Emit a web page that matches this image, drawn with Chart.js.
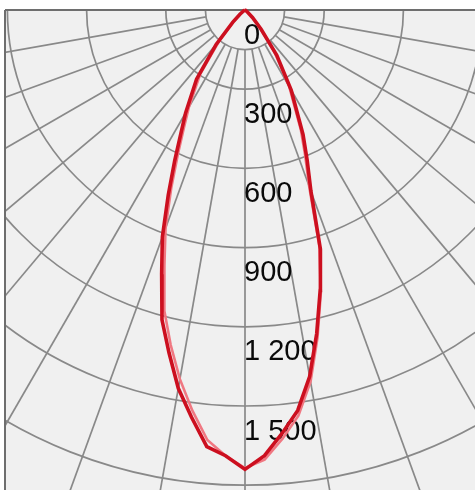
<!DOCTYPE html>
<html><head><meta charset="utf-8">
<script src="https://cdn.jsdelivr.net/npm/chart.js@4/dist/chart.umd.min.js"></script>
<style>html,body{margin:0;padding:0;background:#fff;}canvas{display:block;}</style>
</head><body>
<canvas id="c" width="475" height="490"></canvas>
<script>
// Polar light-distribution data: angle from nadir (deg), luminous intensity (cd/klm)
const angles      = [-90,-60,-50,-45,-40,-35,-30,-27.5,-25,-22.5,-20,-17.5,-15,-12.5,-10,-7.5,-5,-2.5,0,2.5,5,7.5,10,12.5,15,17.5,20,22.5,25,30,35,40,45,50,60,90];
const intensityC0 = [0,5,25,65,170,320,450,525,630,760,915,1050,1215,1330,1455,1555,1660,1690,1740,1690,1610,1530,1410,1255,1100,950,730,615,520,350,210,95,40,12,2,0];
const intensityC90= [0,4,20,58,150,295,425,500,600,730,880,1015,1180,1300,1420,1530,1635,1690,1735,1705,1630,1550,1430,1270,1110,935,710,595,500,335,195,88,36,10,2,0];
const tickValues  = [0,300,600,900,1200,1500];
const tickLabels  = ['0','300','600','900','1 200','1 500'];
const circleValues= [150,300,600,900,1200,1500,1800];
const radialAngles= [-90,-80,-70,-60,-50,-40,-30,-20,-10,0,10,20,30,40,50,60,70,80,90];

function toPoints(vals){
  return angles.map((a,i)=>{const r=a*Math.PI/180;return {x:vals[i]*Math.sin(r), y:vals[i]*Math.cos(r)};});
}

const W=475,H=490,CX=245,CY=10,PX_PER_UNIT=79.2/300;

const polarGrid = {
  id:'polarGrid',
  beforeDatasetsDraw(chart){
    const {ctx, scales:{x, y}} = chart;
    const cx = x.getPixelForValue(0), cy = y.getPixelForValue(0);
    const rpx = v => Math.abs(y.getPixelForValue(v) - cy);
    ctx.save();
    ctx.fillStyle='#fff'; ctx.fillRect(0,0,W,H);
    ctx.fillStyle='#f0f0f0'; ctx.fillRect(5,10,W-5,H-10);
    ctx.strokeStyle='#898989'; ctx.lineWidth=1.7;
    ctx.beginPath(); ctx.rect(5,10,W-5,H-10); ctx.clip();
    circleValues.forEach(v=>{
      ctx.beginPath(); ctx.arc(cx,cy,rpx(v),0,Math.PI); ctx.stroke();
    });
    radialAngles.forEach(a=>{
      const r=a*Math.PI/180;
      const x0=x.getPixelForValue(150*Math.sin(r)), y0=y.getPixelForValue(150*Math.cos(r));
      const x1=x.getPixelForValue(3000*Math.sin(r)), y1=y.getPixelForValue(3000*Math.cos(r));
      ctx.beginPath(); ctx.moveTo(x0,y0); ctx.lineTo(x1,y1); ctx.stroke();
    });
    ctx.restore();
    ctx.save();
    ctx.strokeStyle='#6e6e6e'; ctx.lineWidth=2;
    ctx.beginPath(); ctx.moveTo(5,10); ctx.lineTo(W,10); ctx.moveTo(5,10); ctx.lineTo(5,H); ctx.stroke();
    ctx.fillStyle='#0a0a0a'; ctx.font='29px "Liberation Sans", Arial, sans-serif';
    ctx.textAlign='left'; ctx.textBaseline='alphabetic';
    tickValues.forEach((v,i)=>{
      ctx.fillText(tickLabels[i], cx-1, y.getPixelForValue(v)+33.5);
    });
    ctx.restore();
  }
};

new Chart(document.getElementById('c'), {
  type:'scatter',
  data:{datasets:[
    {label:'C0 - C180', data:toPoints(intensityC0), showLine:true, borderColor:'#cc0f1f', borderWidth:3.6, pointRadius:0, tension:0, fill:false},
    {label:'C90 - C270', data:toPoints(intensityC90), showLine:true, borderColor:'#f07882', borderWidth:2.6, pointRadius:0, tension:0, fill:false}
  ]},
  options:{
    responsive:false, animation:false, devicePixelRatio:1,
    layout:{padding:0},
    plugins:{legend:{display:false}, tooltip:{enabled:false}},
    scales:{
      x:{type:'linear', display:false, min:-CX/PX_PER_UNIT, max:(W-CX)/PX_PER_UNIT},
      y:{type:'linear', display:false, reverse:true, min:-CY/PX_PER_UNIT, max:(H-CY)/PX_PER_UNIT}
    }
  },
  plugins:[polarGrid]
});
</script>
</body></html>
